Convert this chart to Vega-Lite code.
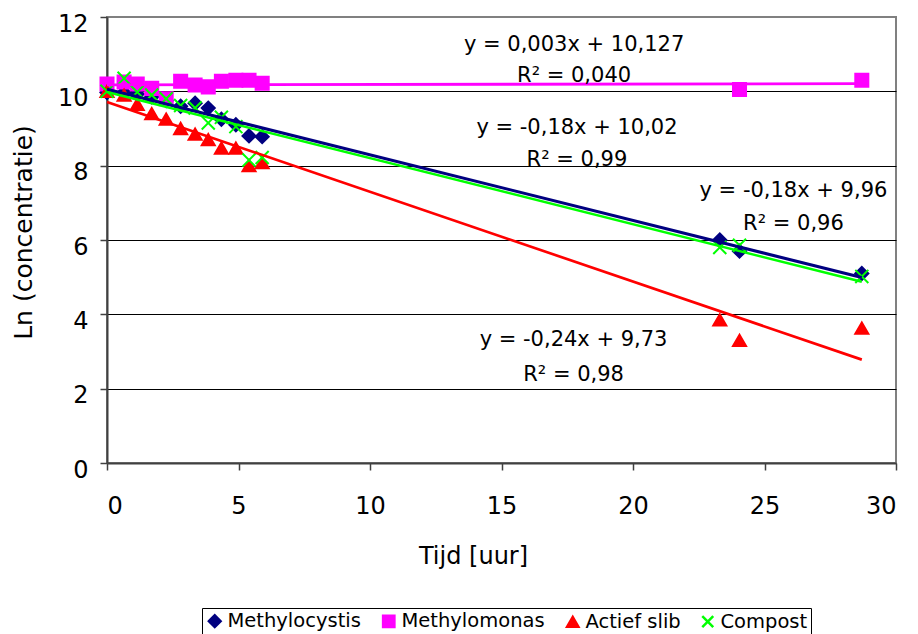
{
  "$schema": "https://vega.github.io/schema/vega-lite/v6.json",
  "width": 789,
  "height": 446,
  "autosize": "none",
  "padding": {"left": 107, "top": 17, "right": 22, "bottom": 171},
  "background": "white",
  "config": {
    "font": "DejaVu Sans",
    "view": {"stroke": "#808080", "strokeWidth": 2},
    "legend": {
      "orient": "none",
      "legendX": 95,
      "legendY": 591,
      "direction": "horizontal",
      "strokeColor": "black",
      "fillColor": "white",
      "padding": 3,
      "labelFontSize": 19.5,
      "labelColor": "black",
      "symbolSize": 120,
      "symbolStrokeWidth": 2,
      "columnPadding": 16,
      "labelOffset": 3
    }
  },
  "datasets": {
    "metingen": [
      {"reeks": "Methylocystis", "tijd": 0, "ln": 9.97},
      {"reeks": "Methylocystis", "tijd": 0.65, "ln": 9.97},
      {"reeks": "Methylocystis", "tijd": 1.15, "ln": 9.93},
      {"reeks": "Methylocystis", "tijd": 1.7, "ln": 9.85},
      {"reeks": "Methylocystis", "tijd": 2.25, "ln": 9.75},
      {"reeks": "Methylocystis", "tijd": 2.8, "ln": 9.6},
      {"reeks": "Methylocystis", "tijd": 3.35, "ln": 9.68},
      {"reeks": "Methylocystis", "tijd": 3.85, "ln": 9.55},
      {"reeks": "Methylocystis", "tijd": 4.35, "ln": 9.25},
      {"reeks": "Methylocystis", "tijd": 4.9, "ln": 9.1},
      {"reeks": "Methylocystis", "tijd": 5.4, "ln": 8.8},
      {"reeks": "Methylocystis", "tijd": 5.9, "ln": 8.78},
      {"reeks": "Methylocystis", "tijd": 23.3, "ln": 6.0},
      {"reeks": "Methylocystis", "tijd": 24.05, "ln": 5.7},
      {"reeks": "Methylocystis", "tijd": 28.7, "ln": 5.1},
      {"reeks": "Methylomonas", "tijd": 0, "ln": 10.2},
      {"reeks": "Methylomonas", "tijd": 0.65, "ln": 10.25},
      {"reeks": "Methylomonas", "tijd": 1.15, "ln": 10.2},
      {"reeks": "Methylomonas", "tijd": 1.7, "ln": 10.08},
      {"reeks": "Methylomonas", "tijd": 2.25, "ln": 9.8},
      {"reeks": "Methylomonas", "tijd": 2.8, "ln": 10.27},
      {"reeks": "Methylomonas", "tijd": 3.35, "ln": 10.17},
      {"reeks": "Methylomonas", "tijd": 3.85, "ln": 10.12},
      {"reeks": "Methylomonas", "tijd": 4.35, "ln": 10.27},
      {"reeks": "Methylomonas", "tijd": 4.9, "ln": 10.3},
      {"reeks": "Methylomonas", "tijd": 5.4, "ln": 10.3},
      {"reeks": "Methylomonas", "tijd": 5.9, "ln": 10.22},
      {"reeks": "Methylomonas", "tijd": 24.05, "ln": 10.05},
      {"reeks": "Methylomonas", "tijd": 28.7, "ln": 10.3},
      {"reeks": "Actief slib", "tijd": 0, "ln": 10.0},
      {"reeks": "Actief slib", "tijd": 0.65, "ln": 9.9},
      {"reeks": "Actief slib", "tijd": 1.15, "ln": 9.65},
      {"reeks": "Actief slib", "tijd": 1.7, "ln": 9.4},
      {"reeks": "Actief slib", "tijd": 2.25, "ln": 9.25},
      {"reeks": "Actief slib", "tijd": 2.8, "ln": 9.0},
      {"reeks": "Actief slib", "tijd": 3.35, "ln": 8.85},
      {"reeks": "Actief slib", "tijd": 3.85, "ln": 8.7},
      {"reeks": "Actief slib", "tijd": 4.35, "ln": 8.47},
      {"reeks": "Actief slib", "tijd": 4.9, "ln": 8.47},
      {"reeks": "Actief slib", "tijd": 5.4, "ln": 8.0},
      {"reeks": "Actief slib", "tijd": 5.9, "ln": 8.08},
      {"reeks": "Actief slib", "tijd": 23.3, "ln": 3.85},
      {"reeks": "Actief slib", "tijd": 24.05, "ln": 3.3},
      {"reeks": "Actief slib", "tijd": 28.7, "ln": 3.63},
      {"reeks": "Compost", "tijd": 0, "ln": 10.0},
      {"reeks": "Compost", "tijd": 0.65, "ln": 10.35},
      {"reeks": "Compost", "tijd": 1.15, "ln": 9.98},
      {"reeks": "Compost", "tijd": 1.7, "ln": 9.9},
      {"reeks": "Compost", "tijd": 2.25, "ln": 9.8},
      {"reeks": "Compost", "tijd": 2.8, "ln": 9.62},
      {"reeks": "Compost", "tijd": 3.35, "ln": 9.55},
      {"reeks": "Compost", "tijd": 3.85, "ln": 9.15},
      {"reeks": "Compost", "tijd": 4.35, "ln": 9.3},
      {"reeks": "Compost", "tijd": 4.9, "ln": 9.05},
      {"reeks": "Compost", "tijd": 5.4, "ln": 8.15},
      {"reeks": "Compost", "tijd": 5.9, "ln": 8.22},
      {"reeks": "Compost", "tijd": 23.3, "ln": 5.8},
      {"reeks": "Compost", "tijd": 24.05, "ln": 5.86},
      {"reeks": "Compost", "tijd": 28.7, "ln": 5.02}
    ],
    "vergelijkingen": [
      {"tekst": "y = 0,003x + 10,127", "tijd": 17.76, "ln": 11.25},
      {"tekst": "R² = 0,040", "tijd": 17.76, "ln": 10.41},
      {"tekst": "y = -0,18x + 10,02", "tijd": 17.87, "ln": 9.01},
      {"tekst": "R² = 0,99", "tijd": 17.87, "ln": 8.14},
      {"tekst": "y = -0,18x + 9,96", "tijd": 26.1, "ln": 7.33},
      {"tekst": "R² = 0,96", "tijd": 26.1, "ln": 6.44},
      {"tekst": "y = -0,24x + 9,73", "tijd": 17.74, "ln": 3.31},
      {"tekst": "R² = 0,98", "tijd": 17.74, "ln": 2.38}
    ]
  },
  "layer": [
    {
      "data": {"name": "metingen"},
      "mark": {"type": "point", "filled": true, "size": 170, "strokeWidth": 2, "opacity": 1},
      "encoding": {
        "x": {
          "field": "tijd",
          "type": "quantitative",
          "scale": {"domain": [0, 30], "nice": false, "zero": false},
          "axis": {
            "values": [0, 5, 10, 15, 20, 25, 30],
            "grid": false,
            "tickSize": 7,
            "tickColor": "#404040",
            "tickWidth": 1.5,
            "domainColor": "#404040",
            "domainWidth": 2,
            "labelFontSize": 24,
            "labelColor": "black",
            "labelPadding": 24,
            "title": "Tijd [uur]",
            "titleFontSize": 24,
            "titleFontWeight": "normal",
            "titleColor": "black",
            "titleX": 366,
            "titleY": 100,
            "titleAlign": "center",
            "titleBaseline": "alphabetic"
          }
        },
        "y": {
          "field": "ln",
          "type": "quantitative",
          "scale": {"domain": [0, 12], "nice": false},
          "axis": {
            "values": [0, 2, 4, 6, 8, 10, 12],
            "grid": true,
            "gridColor": "black",
            "gridWidth": 1,
            "gridOpacity": {"condition": {"test": "datum.value === 0 || datum.value === 12", "value": 0}, "value": 1},
            "tickSize": 7,
            "tickColor": "#404040",
            "tickWidth": 1.5,
            "domainColor": "#404040",
            "domainWidth": 2,
            "labelFontSize": 24,
            "labelColor": "black",
            "labelPadding": 12,
            "labelOffset": 7,
            "title": "Ln (concentratie)",
            "titleFontSize": 25,
            "titleFontWeight": "normal",
            "titleColor": "black",
            "titleAngle": 270,
            "titleX": -84,
            "titleY": 215,
            "titleAlign": "center",
            "titleBaseline": "middle"
          }
        },
        "color": {
          "field": "reeks",
          "type": "nominal",
          "scale": {
            "domain": ["Methylocystis", "Methylomonas", "Actief slib", "Compost"],
            "range": ["#000080", "#FF00FF", "#FF0000", "#00FF00"]
          },
          "legend": {"title": null}
        },
        "stroke": {
          "field": "reeks",
          "type": "nominal",
          "scale": {
            "domain": ["Methylocystis", "Methylomonas", "Actief slib", "Compost"],
            "range": ["#000080", "#FF00FF", "#FF0000", "#00FF00"]
          },
          "legend": {"title": null}
        },
        "shape": {
          "field": "reeks",
          "type": "nominal",
          "scale": {
            "domain": ["Methylocystis", "Methylomonas", "Actief slib", "Compost"],
            "range": ["diamond", "square", "triangle-up", "M-1,-1L1,1M1,-1L-1,1"]
          },
          "legend": {"title": null}
        }
      }
    },
    {
      "data": {"name": "metingen"},
      "transform": [{"regression": "ln", "on": "tijd", "groupby": ["reeks"]}],
      "mark": {"type": "line"},
      "encoding": {
        "x": {"field": "tijd", "type": "quantitative"},
        "y": {"field": "ln", "type": "quantitative"},
        "color": {"field": "reeks", "type": "nominal", "legend": null},
        "strokeWidth": {
          "field": "reeks",
          "type": "nominal",
          "scale": {
            "domain": ["Methylocystis", "Methylomonas", "Actief slib", "Compost"],
            "range": [3, 2.5, 2, 3]
          },
          "legend": null
        },
        "detail": {"field": "reeks", "type": "nominal"}
      }
    },
    {
      "data": {"name": "vergelijkingen"},
      "mark": {"type": "text", "fontSize": 21, "align": "center", "baseline": "middle", "color": "black"},
      "encoding": {
        "x": {"field": "tijd", "type": "quantitative"},
        "y": {"field": "ln", "type": "quantitative"},
        "text": {"field": "tekst", "type": "nominal"}
      }
    }
  ]
}
